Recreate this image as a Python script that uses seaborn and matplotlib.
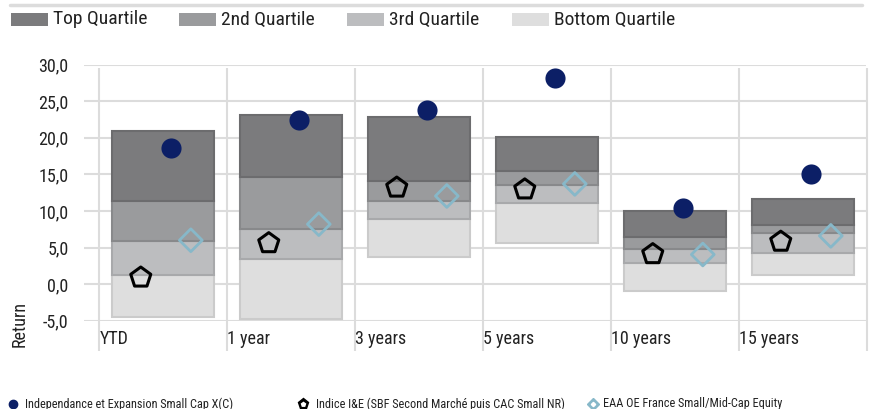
import numpy as np
import pandas as pd
import matplotlib
matplotlib.use("Agg")
import matplotlib.pyplot as plt
import seaborn as sns
from matplotlib.patches import Rectangle
from matplotlib.lines import Line2D
from matplotlib import font_manager

# ---------------- data ----------------
categories = ["YTD", "1 year", "3 years", "5 years", "10 years", "15 years"]
q_low = [-4.55, -4.7, 3.65, 5.65, -1.0, 1.2]      # bottom of bottom quartile
q_25 = [1.25, 3.45, 8.9, 11.15, 2.85, 4.3]        # bottom/3rd boundary
q_50 = [5.9, 7.55, 11.4, 13.55, 4.8, 7.05]        # 3rd/2nd boundary
q_75 = [11.4, 14.7, 14.1, 15.5, 6.45, 8.15]       # 2nd/top boundary
q_high = [21.0, 23.1, 22.9, 20.1, 10.0, 11.65]    # top of top quartile
fund = [18.6, 22.4, 23.8, 28.2, 10.35, 15.1]
index_vals = [0.9, 5.6, 13.2, 12.95, 4.1, 5.8]
peer_avg = [6.0, 8.2, 12.05, 13.7, 4.05, 6.6]
y_ticks = [-5, 0, 5, 10, 15, 20, 25, 30]

quartile_names = ["Top Quartile", "2nd Quartile", "3rd Quartile", "Bottom Quartile"]
series_names = ["Independance et Expansion Small Cap X(C)",
                "Indice I&E (SBF Second Marché puis CAC Small NR)",
                "EAA OE France Small/Mid-Cap Equity"]

# ---------------- style ----------------
sns.set_theme(style="white")
available = {f.name for f in font_manager.fontManager.ttflist}
condensed = [f for f in ["Roboto Condensed", "Liberation Sans Narrow", "Open Sans Condensed"]
             if f in available]
if condensed:
    plt.rcParams["font.family"] = [condensed[0], "DejaVu Sans"]
    k = 1.0
else:
    plt.rcParams["font.family"] = ["Roboto", "DejaVu Sans"]
    k = 0.92
TXT = "#222222"

W, H = 873, 409
fig = plt.figure(figsize=(W / 100, H / 100), dpi=100)

def fx(px):
    return px / W

def fy(py):
    return 1 - py / H

ax_left, ax_right, ax_top, ax_bot = 84, 866, 64.7, 320.7
ax = fig.add_axes([fx(ax_left), fy(ax_bot), fx(ax_right - ax_left), (ax_bot - ax_top) / H])

n = len(categories)
xpos = np.arange(n)
fills = ["#7b7b7d", "#9a9b9d", "#bcbdbf", "#dedede"]
edges = ["#6c6c6e", "#88898b", "#a8a9ab", "#cbcbcb"]
segments = [
    (q_low, q_25, fills[3], edges[3]),
    (q_25, q_50, fills[2], edges[2]),
    (q_50, q_75, fills[1], edges[1]),
    (q_75, q_high, fills[0], edges[0]),
]
for lo, hi, fc, ec in segments:
    lo = np.array(lo)
    hi = np.array(hi)
    ax.bar(xpos, hi - lo, bottom=lo, width=0.8, color=fc, edgecolor=ec,
           linewidth=1.5, zorder=2)

# markers via seaborn
df = pd.DataFrame({
    "x": np.concatenate([xpos + 0.059, xpos - 0.176, xpos + 0.215]),
    "value": fund + index_vals + peer_avg,
    "series": [series_names[0]] * n + [series_names[1]] * n + [series_names[2]] * n,
})
sns.scatterplot(data=df[df.series == series_names[0]], x="x", y="value", ax=ax,
                marker="o", s=210, color="#0c1f66", edgecolor="#0c1f66",
                linewidth=0, zorder=4, legend=False)
sns.scatterplot(data=df[df.series == series_names[1]], x="x", y="value", ax=ax,
                marker="p", s=230, facecolor="none", edgecolor="black",
                linewidth=2.2, zorder=4, legend=False)
sns.scatterplot(data=df[df.series == series_names[2]], x="x", y="value", ax=ax,
                marker="D", s=135, facecolor="none", edgecolor="#87b8c9",
                linewidth=2.0, zorder=4, legend=False)

# axes cosmetics
ax.set_xlim(-0.6195, 5.49)
ax.set_ylim(-5, 30)
ax.set_yticks(y_ticks)
ax.set_yticklabels([f"{v:.1f}".replace(".", ",") for v in y_ticks], fontsize=13 * k, color=TXT)
ax.set_xticks(xpos - 0.5)
ax.set_xticklabels(categories, fontsize=13 * k, color=TXT, ha="left")
ax.tick_params(axis="y", length=0, pad=11)
ax.tick_params(axis="x", length=0, pad=7)
ax.set_xlabel("")
ax.set_ylabel("")
for s in ax.spines.values():
    s.set_visible(False)
ax.yaxis.grid(True, color="#dcdcdc", linewidth=1.5, zorder=0)
ax.xaxis.grid(False)
ax.set_axisbelow(True)
ax.vlines(np.arange(n + 1) - 0.5, -9.2, 29.5, color="#dcdcdc", linewidth=1.5,
          clip_on=False, zorder=0)

# y label
fig.text(fx(20), fy(347), "Return", rotation=90, ha="center", va="bottom",
         fontsize=13 * k, color=TXT)

# top separator line
fig.add_artist(Line2D([fx(10), fx(862)], [fy(5), fy(5)], color="#dcdcdc", linewidth=2.5))

# top legend
leg_x = [11, 179, 347, 512]
for xp, name, fc in zip(leg_x, quartile_names, fills):
    fig.add_artist(Rectangle((fx(xp), fy(25.5)), fx(37), 12 / H, facecolor=fc,
                             edgecolor="none", transform=fig.transFigure))
    fig.text(fx(xp + 42), fy(19.5), name, ha="left", va="center", fontsize=14 * k, color=TXT)

# bottom legend
ly = fy(404)
fs_leg = 8.8 * k if condensed else 7.5
fig.add_artist(Line2D([fx(13)], [ly], marker="o", markersize=6, color="#0c1f66",
                      linestyle="none"))
fig.text(fx(25), ly, series_names[0], ha="left", va="center", fontsize=fs_leg, color=TXT)
fig.add_artist(Line2D([fx(303)], [ly], marker="p", markersize=8, color="black",
                      linestyle="none"))
fig.add_artist(Line2D([fx(303)], [ly], marker="p", markersize=3, color="white",
                      linestyle="none"))
fig.text(fx(316), ly, series_names[1], ha="left", va="center", fontsize=fs_leg, color=TXT)
fig.add_artist(Line2D([fx(593)], [ly], marker="D", markersize=6.5, color="#87b8c9",
                      linestyle="none"))
fig.add_artist(Line2D([fx(593)], [ly], marker="D", markersize=2.2, color="white",
                      linestyle="none"))
fig.text(fx(603), ly, series_names[2], ha="left", va="center", fontsize=fs_leg, color=TXT)

fig.savefig("out.png", dpi=100)
